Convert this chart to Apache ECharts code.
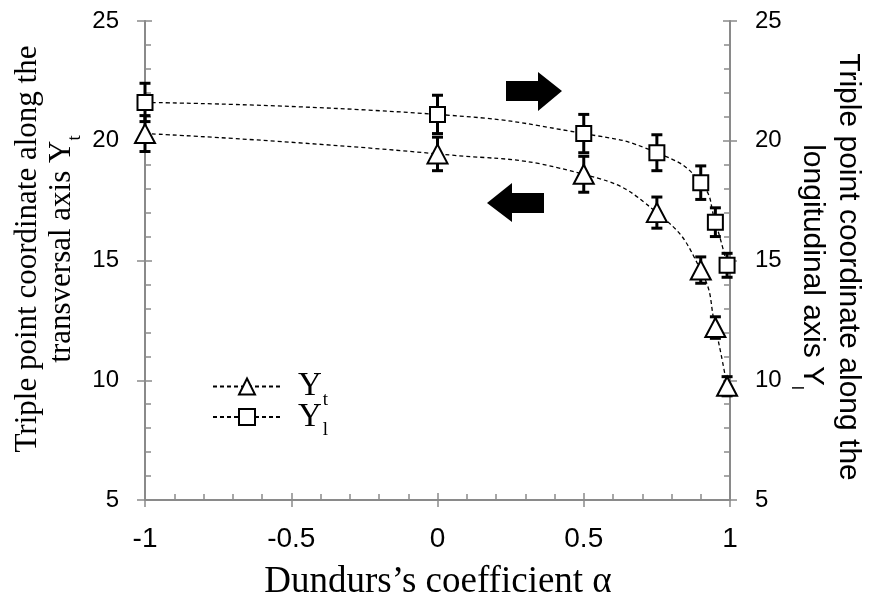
<!DOCTYPE html>
<html>
<head>
<meta charset="utf-8">
<script src="https://cdn.jsdelivr.net/npm/echarts@6/dist/echarts.min.js"></script>
<style>html,body{margin:0;padding:0;background:#fff}#c{width:872px;height:605px}</style>
</head>
<body>
<div id="c"></div>
<script>
// ---- data ----
var alpha = [-1, 0, 0.5, 0.75, 0.9, 0.95, 0.99];
var Yt = [20.3, 19.45, 18.6, 17.0, 14.6, 12.2, 9.75];
var YtErr = [0.75, 0.7, 0.75, 0.65, 0.55, 0.45, 0.4];
var Yl = [21.6, 21.1, 20.3, 19.5, 18.25, 16.6, 14.8];
var YlErr = [0.8, 0.8, 0.8, 0.75, 0.7, 0.6, 0.5];
var xTicks = [-1, -0.5, 0, 0.5, 1];
var yTicks = [5, 10, 15, 20, 25];

var chart = echarts.init(document.getElementById('c'), null, {renderer: 'canvas'});
var AX = '#8a8a8a';
var SANS = 'Liberation Sans';
var SERIF = 'Liberation Serif';

function pairs(xs, ys) { return xs.map(function (x, i) { return [x, ys[i]]; }); }
function errData(xs, ys, es) { return xs.map(function (x, i) { return [x, ys[i] - es[i], ys[i] + es[i]]; }); }

function errRender(params, api) {
  var x = api.value(0);
  var lo = api.coord([x, api.value(1)]);
  var hi = api.coord([x, api.value(2)]);
  var w = 5.5;
  var st = {stroke: '#000', lineWidth: 3};
  return {
    type: 'group',
    children: [
      {type: 'line', shape: {x1: lo[0], y1: lo[1], x2: hi[0], y2: hi[1]}, style: st},
      {type: 'line', shape: {x1: lo[0] - w, y1: lo[1], x2: lo[0] + w, y2: lo[1]}, style: st},
      {type: 'line', shape: {x1: hi[0] - w, y1: hi[1], x2: hi[0] + w, y2: hi[1]}, style: st}
    ]
  };
}

var xBase = {type: 'value', min: -1, max: 1, interval: 0.5, position: 'bottom', splitLine: {show: false}};
var yBase = {type: 'value', min: 5, max: 25, interval: 5, splitLine: {show: false}};

var option = {
  animation: false,
  backgroundColor: '#fff',
  grid: {left: 145, right: 142, top: 21, bottom: 105, containLabel: false},
  xAxis: [
    Object.assign({}, xBase, {
      axisLine: {show: true, onZero: false, lineStyle: {color: AX, width: 2}},
      axisTick: {show: true, inside: false, length: 7, lineStyle: {color: AX, width: 1.5}},
      minorTick: {show: false},
      axisLabel: {show: true, margin: 25, color: '#000', fontFamily: SANS, fontSize: 28,
        formatter: function (v) { return xTicks.indexOf(v) >= 0 ? String(v) : ''; }}
    }),
    Object.assign({}, xBase, {
      axisLine: {show: false, onZero: false},
      axisTick: {show: true, inside: true, length: 7, lineStyle: {color: AX, width: 1.5}},
      minorTick: {show: true, splitNumber: 5, length: 6, lineStyle: {color: AX, width: 1.5}},
      axisLabel: {show: false}
    })
  ],
  yAxis: [
    Object.assign({}, yBase, {
      position: 'left',
      axisLine: {show: true, onZero: false, lineStyle: {color: AX, width: 2}},
      axisTick: {show: true, inside: false, length: 8, lineStyle: {color: AX, width: 1.5}},
      axisLabel: {show: true, margin: 26, color: '#000', fontFamily: SANS, fontSize: 24,
        formatter: function (v) { return yTicks.indexOf(v) >= 0 ? String(v) : ''; }}
    }),
    Object.assign({}, yBase, {
      position: 'right',
      axisLine: {show: true, onZero: false, lineStyle: {color: AX, width: 2}},
      axisTick: {show: true, inside: false, length: 7, lineStyle: {color: AX, width: 1.5}},
      axisLabel: {show: true, margin: 25, color: '#000', fontFamily: SANS, fontSize: 24,
        formatter: function (v) { return yTicks.indexOf(v) >= 0 ? String(v) : ''; }}
    }),
    Object.assign({}, yBase, {
      position: 'left', offset: 0,
      axisLine: {show: false, onZero: false},
      axisTick: {show: true, inside: true, length: 7, lineStyle: {color: AX, width: 1.5}},
      minorTick: {show: true, splitNumber: 5, length: 6, lineStyle: {color: AX, width: 1.5}},
      axisLabel: {show: false}
    }),
    Object.assign({}, yBase, {
      position: 'right', offset: 0,
      axisLine: {show: false, onZero: false},
      axisTick: {show: true, inside: true, length: 7, lineStyle: {color: AX, width: 1.5}},
      minorTick: {show: true, splitNumber: 5, length: 6, lineStyle: {color: AX, width: 1.5}},
      axisLabel: {show: false}
    })
  ],
  legend: {
    show: true,
    orient: 'vertical',
    left: 207,
    top: 365,
    itemWidth: 68,
    itemHeight: 20,
    itemGap: -9,
    data: ['Yt', 'Yl'],
    formatter: function (name) { return '{m|Y}{s|' + name.charAt(1) + '}'; },
    textStyle: {
      color: '#000',
      rich: {
        m: {fontFamily: SERIF, fontSize: 33, lineHeight: 28, padding: [0, 0, 0, 12], verticalAlign: 'middle'},
        s: {fontFamily: SERIF, fontSize: 19, lineHeight: 16, verticalAlign: 'bottom', padding: [0, 0, -9, 1]}
      }
    }
  },
  series: [
    {
      type: 'custom', name: 'YtErr', xAxisIndex: 0, yAxisIndex: 0, z: 2,
      renderItem: errRender, data: errData(alpha, Yt, YtErr), encode: {x: 0, y: [1, 2]}
    },
    {
      type: 'custom', name: 'YlErr', xAxisIndex: 0, yAxisIndex: 1, z: 2,
      renderItem: errRender, data: errData(alpha, Yl, YlErr), encode: {x: 0, y: [1, 2]}
    },
    {
      type: 'line', name: 'Yt', xAxisIndex: 0, yAxisIndex: 0, z: 3,
      data: pairs(alpha, Yt),
      smooth: 0.5,
      symbol: 'triangle', symbolSize: [20, 19], showSymbol: true,
      lineStyle: {color: '#000', width: 1.3, type: [4, 3]},
      itemStyle: {color: '#fff', borderColor: '#000', borderWidth: 2}
    },
    {
      type: 'line', name: 'Yl', xAxisIndex: 0, yAxisIndex: 1, z: 3,
      data: pairs(alpha, Yl),
      smooth: 0.5,
      symbol: 'rect', symbolSize: 15, showSymbol: true,
      lineStyle: {color: '#000', width: 1.3, type: [4, 3]},
      itemStyle: {color: '#fff', borderColor: '#000', borderWidth: 2}
    }
  ],
  graphic: [
    // left axis title
    {
      type: 'text', x: 45, y: 249, rotation: Math.PI / 2, z: 10,
      style: {
        text: 'Triple point coordinate along the\ntransversal axis Y{s|t}',
        fontFamily: SERIF, fontSize: 31, lineHeight: 34, fill: '#000',
        align: 'center', verticalAlign: 'middle',
        rich: {s: {fontFamily: SERIF, fontSize: 19, lineHeight: 18, verticalAlign: 'bottom', padding: [0, 0, -6, 0]}}
      }
    },
    // right axis title
    {
      type: 'text', x: 830, y: 267, rotation: -Math.PI / 2, z: 10,
      style: {
        text: 'Triple point coordinate along the\nlongitudinal axis Y{s|l}',
        fontFamily: SANS, fontSize: 30, lineHeight: 36, fill: '#000',
        align: 'center', verticalAlign: 'middle',
        rich: {s: {fontFamily: SANS, fontSize: 17, lineHeight: 16, verticalAlign: 'bottom', padding: [0, 0, -6, 0]}}
      }
    },
    // x axis title
    {
      type: 'text', x: 438, y: 582, z: 10,
      style: {
        text: 'Dundurs\u2019s coefficient \u03b1',
        fontFamily: SERIF, fontSize: 37, fill: '#000',
        align: 'center', verticalAlign: 'middle'
      }
    },
    // right-pointing arrow
    {
      type: 'polygon', z: 10,
      shape: {points: [[506, 81], [538, 81], [538, 72], [562, 91], [538, 111], [538, 101], [506, 101]]},
      style: {fill: '#000'}
    },
    // left-pointing arrow
    {
      type: 'polygon', z: 10,
      shape: {points: [[544, 193], [512, 193], [512, 183], [487, 203], [512, 222], [512, 213], [544, 213]]},
      style: {fill: '#000'}
    }
  ]
};
chart.setOption(option);
</script>
</body>
</html>
